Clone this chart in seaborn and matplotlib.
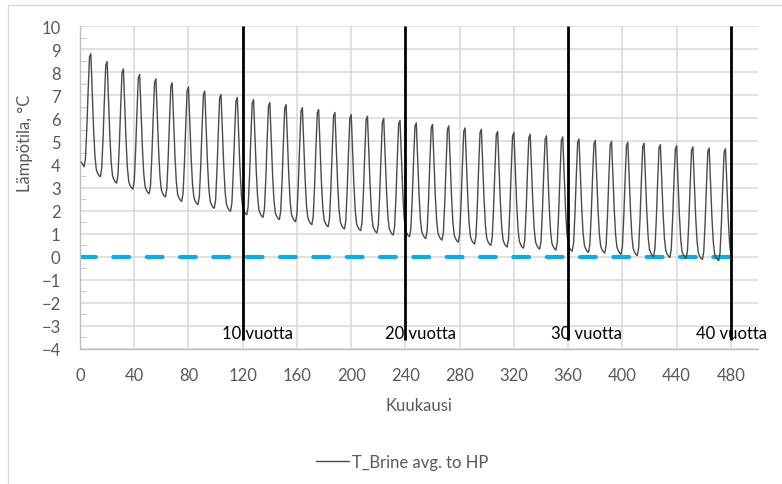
import numpy as np
import pandas as pd
import matplotlib
matplotlib.use("Agg")
import matplotlib.pyplot as plt
from matplotlib.patches import Rectangle
import seaborn as sns

sns.set_style("white")
plt.rcParams['font.family'] = ['Lato', 'DejaVu Sans']

# yearly peak values (years 1..40)
peaks = [8.80, 8.46, 8.14, 7.90, 7.71, 7.54, 7.35, 7.18, 7.03, 6.90,
         6.81, 6.68, 6.59, 6.46, 6.38, 6.25, 6.16, 6.09, 5.99, 5.91,
         5.80, 5.73, 5.67, 5.58, 5.52, 5.43, 5.38, 5.31, 5.24, 5.19,
         5.10, 5.04, 5.00, 4.96, 4.92, 4.86, 4.81, 4.76, 4.71, 4.68]

# trough values: start level, then the low after each yearly peak
troughs = [3.90,
           3.47, 3.19, 2.93, 2.73, 2.59, 2.40, 2.26, 2.10, 1.97, 1.82,
           1.71, 1.61, 1.52, 1.39, 1.30, 1.20, 1.13, 1.03, 0.94, 0.87,
           0.79, 0.72, 0.63, 0.55, 0.49, 0.42, 0.37, 0.33, 0.29, 0.24,
           0.19, 0.16, 0.11, 0.05, 0.01, -0.03, -0.07, -0.12, -0.17, -0.20]

# share of the yearly swing for months 1..12 (peak in month 7-8)
month_shape = [0.03, 0.01, 0.00, 0.07, 0.33, 0.67, 0.97, 1.00, 0.69, 0.39, 0.17, 0.06]

# the first three months start a bit above the first low
first_months = [4.10, 4.00, 3.90]

year_marks = [120, 240, 360, 480]
year_labels = ["10 vuotta", "20 vuotta", "30 vuotta", "40 vuotta"]
label_x = [105, 225, 347, 454]

# build the monthly series
months, temps = [], []
for y in range(40):
    for j in range(12):
        m = y * 12 + j + 1
        low = troughs[y] if j < 7 else troughs[y + 1]
        temps.append(low + (peaks[y] - low) * month_shape[j])
        months.append(m)
temps[:3] = first_months
df = pd.DataFrame({"Kuukausi": months, "T": temps})

fig = plt.figure(figsize=(7.82, 4.85), dpi=100)
ax = fig.add_axes([80 / 782, 1 - 350 / 485, 678 / 782, 323 / 485])

grid_c = '#d9d9d9'
text_c = '#595959'

ax.set_xlim(0, 500)
ax.set_ylim(-4, 10)
ax.set_xticks(range(0, 481, 40))
ax.set_yticks(range(-4, 11))
ax.set_yticks(np.arange(-3.5, 10, 1.0), minor=True)
ax.grid(True, which='major', color=grid_c, lw=1.1)
ax.set_axisbelow(True)
for s in ['top', 'right']:
    ax.spines[s].set_visible(False)
for s in ['left', 'bottom']:
    ax.spines[s].set_color('#bfbfbf')
    ax.spines[s].set_linewidth(1.0)
ax.tick_params(which='major', direction='out', length=4, color='#bfbfbf',
               labelsize=12, labelcolor=text_c)
ax.tick_params(axis='x', which='major', pad=9)
ax.tick_params(axis='y', which='major', pad=10)
ax.tick_params(axis='y', which='minor', direction='in', length=4, color='#bfbfbf', left=True)

zero_line = ax.hlines(0, 0, months[-1], color='#00b0f0', lw=3.0,
                      linestyles=(0, (3.8, 4.2)), zorder=2)
zero_line.set_capstyle('round')

sns.lineplot(data=df, x="Kuukausi", y="T", ax=ax, color='#4a4a4a', lw=1.0,
             label='T_Brine avg. to HP', zorder=3)

ax.vlines(year_marks, -3.6, 10, color='black', lw=2.0, zorder=4)
for xm, txt in zip(label_x, year_labels):
    ax.text(xm, -3.3, txt, fontsize=12, color='black', ha='left', va='center', zorder=5)

ax.set_xlabel("Kuukausi", fontsize=12, color=text_c, labelpad=10)
ax.set_ylabel("")
fig.text(25 / 782, 1 - 143 / 485, "Lämpötila, °C", rotation=90, fontsize=12,
         color=text_c, ha='center', va='center')

handles, labels = ax.get_legend_handles_labels()
ax.get_legend().remove()
fig.legend(handles, labels, loc='center', bbox_to_anchor=(402 / 782, 1 - 463 / 485),
           frameon=False, fontsize=12, handlelength=2.0, handletextpad=0.15,
           labelcolor=text_c)

fig.add_artist(Rectangle((8 / 782, -0.1), 1.2, 0.1 + 1 - 6 / 485, transform=fig.transFigure,
                         fill=False, edgecolor=grid_c, lw=1.0))

fig.savefig("out.png", dpi=100)
